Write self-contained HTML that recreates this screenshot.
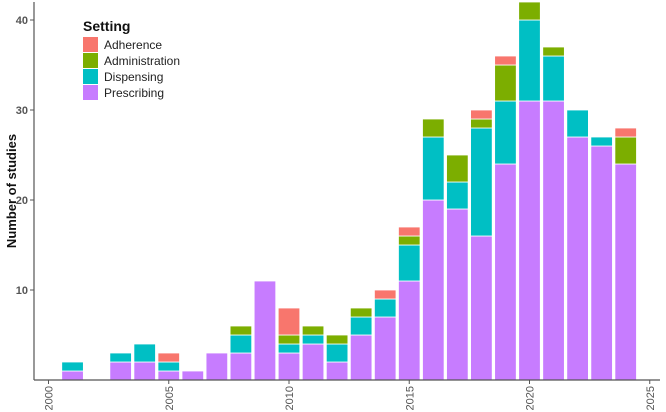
<!DOCTYPE html>
<html><head><meta charset="utf-8"><style>
body{margin:0;background:#fff}
svg{display:block;font-family:"Liberation Sans",sans-serif}
</style></head><body>
<svg id="chart" width="666" height="412">
<g id="bars"></g>
<g id="axes"></g>
<g id="legend"></g>
</svg>
<script>
const years=[2001,2003,2004,2005,2006,2007,2008,2009,2010,2011,2012,2013,2014,2015,2016,2017,2018,2019,2020,2021,2022,2023,2024];
const prescribing=[1,2,2,1,1,3,3,11,3,4,2,5,7,11,20,19,16,24,31,31,27,26,24];
const dispensing=[1,1,2,1,0,0,2,0,1,1,2,2,2,4,7,3,12,7,9,5,3,1,0];
const administration=[0,0,0,0,0,0,1,0,1,1,1,1,0,1,2,3,1,4,2,1,0,0,3];
const adherence=[0,0,0,1,0,0,0,0,3,0,0,0,1,1,0,0,1,1,0,0,0,0,1];
const yTicks=[10,20,30,40];
const xTicks=[2000,2005,2010,2015,2020,2025];
const seriesNames=["Adherence","Administration","Dispensing","Prescribing"];
const colors={Prescribing:"#C77CFF",Dispensing:"#00BFC4",Administration:"#7CAE00",Adherence:"#F8766D"};
const NS="http://www.w3.org/2000/svg";
const xS=y=>48.5+(y-2000)*24.05;
const yS=v=>380-v*9;
function mk(t,a,p){const e=document.createElementNS(NS,t);for(const k in a)e.setAttribute(k,a[k]);p.appendChild(e);return e;}
const bars=document.getElementById('bars');
const stack=[["Prescribing",prescribing],["Dispensing",dispensing],["Administration",administration],["Adherence",adherence]];
years.forEach((yr,i)=>{let base=0;
 stack.forEach(([nm,arr])=>{const v=arr[i];if(!v)return;
  const r=mk('rect',{x:xS(yr)-10.8,y:yS(base+v),width:21.6,height:v*9,fill:colors[nm],stroke:"#fff","stroke-width":0.8},bars);
  
  
  base+=v;});
});
const ax=document.getElementById('axes');
mk('line',{x1:34,y1:2,x2:34,y2:380,stroke:"#555","stroke-width":1.2},ax);
mk('line',{x1:34,y1:380,x2:660,y2:380,stroke:"#555","stroke-width":1.2},ax);
yTicks.forEach(v=>{mk('line',{x1:30,x2:34,y1:yS(v),y2:yS(v),stroke:"#555"},ax);
 const t=mk('text',{x:28,y:yS(v)+4,"text-anchor":"end","font-size":11,"font-weight":"bold",fill:"#555"},ax);t.textContent=v;
 
 });
xTicks.forEach(v=>{const x=xS(v);mk('line',{x1:x,x2:x,y1:380,y2:384,stroke:"#555"},ax);
 const t=mk('text',{x:0,y:0,transform:`translate(${x+4},386) rotate(-90)`,"text-anchor":"end","font-size":11,fill:"#555"},ax);t.textContent=v;
 
 });
const yt=mk('text',{transform:"translate(16,191) rotate(-90)","text-anchor":"middle","font-size":13,"font-weight":"bold",fill:"#111"},ax);yt.textContent="Number of studies";


const lg=document.getElementById('legend');
const lt=mk('text',{x:83,y:31,"font-size":14,"font-weight":"bold",fill:"#111"},lg);lt.textContent="Setting";


seriesNames.forEach((nm,i)=>{const y=37+i*16;
 const g=mk('g',{},lg);
 
 
 mk('rect',{x:83,y:y,width:15,height:15,fill:colors[nm]},g);
 const t=mk('text',{x:104,y:y+12,"font-size":12,fill:"#222"},g);t.textContent=nm;});
</script>
</body></html>
